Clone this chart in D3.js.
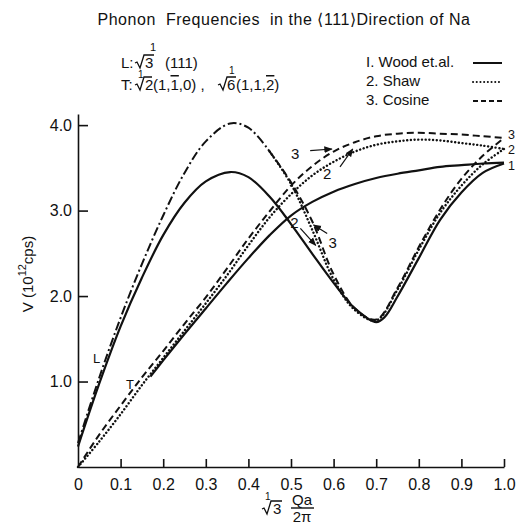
<!DOCTYPE html>
<html>
<head>
<meta charset="utf-8">
<script src="https://cdn.jsdelivr.net/npm/d3@7"></script>
<style>
body { margin: 0; background: #fff; }
svg text { font-family: "Liberation Sans", Arial, sans-serif; fill: #111; }
</style>
</head>
<body>
<div id="chart"></div>
<script>
// Phonon frequencies in the <111> direction of Na, redrawn with d3

var width = 521,
	height = 524;

// axis ticks
var xTicks = [0, 0.1, 0.2, 0.3, 0.4, 0.5, 0.6, 0.7, 0.8, 0.9, 1.0];
var xTickLabels = ["0", "0.1", "0.2", "0.3", "0.4", "0.5", "0.6", "0.7", "0.8", "0.9", "1.0"];
var yTicks = [1, 2, 3, 4];
var yTickLabels = ["1.0", "2.0", "3.0", "4.0"];

// 1. Wood et al. (solid)
var woodL = [[0, 0.24], [0.05, 0.98], [0.1, 1.65], [0.15, 2.22], [0.2, 2.72], [0.25, 3.1], [0.3, 3.35],
	[0.357, 3.46], [0.4, 3.4], [0.45, 3.17], [0.5, 2.85], [0.55, 2.5], [0.6, 2.16], [0.65, 1.86],
	[0.7, 1.70], [0.72, 1.76], [0.75, 2.0], [0.8, 2.45], [0.85, 2.9], [0.9, 3.22], [0.95, 3.45], [1.0, 3.56]];
var woodT = [[0.17, 1.06], [0.2, 1.25], [0.25, 1.56], [0.3, 1.86], [0.35, 2.16], [0.4, 2.45], [0.45, 2.72],
	[0.5, 2.95], [0.55, 3.11], [0.6, 3.23], [0.65, 3.32], [0.7, 3.39], [0.75, 3.44], [0.8, 3.48],
	[0.85, 3.52], [0.9, 3.54], [0.95, 3.56], [1.0, 3.57]];

// L branch where Shaw and Cosine coincide (drawn dash-dot)
var sharedL = [[0, 0.28], [0.05, 1.05], [0.1, 1.75], [0.15, 2.38], [0.2, 2.95], [0.25, 3.45], [0.3, 3.82],
	[0.357, 4.03], [0.4, 3.98], [0.45, 3.7]];

// 2. Shaw (dotted)
var shawL = [[0.45, 3.7], [0.5, 3.32], [0.55, 2.78], [0.6, 2.2], [0.65, 1.84], [0.7, 1.72], [0.75, 2.08],
	[0.8, 2.55], [0.85, 2.98], [0.9, 3.3], [0.95, 3.55], [1.0, 3.73]];
var shawT = [[0, 0], [0.05, 0.3], [0.1, 0.62], [0.15, 0.96], [0.2, 1.28], [0.25, 1.6], [0.3, 1.92],
	[0.35, 2.25], [0.4, 2.6], [0.45, 2.93], [0.5, 3.2], [0.55, 3.42], [0.6, 3.58], [0.65, 3.7],
	[0.7, 3.78], [0.75, 3.82], [0.8, 3.84], [0.85, 3.83], [0.9, 3.8], [0.95, 3.77], [1.0, 3.73]];

// 3. Cosine (dashed)
var cosL = [[0.45, 3.7], [0.5, 3.34], [0.55, 2.88], [0.6, 2.26], [0.65, 1.86], [0.7, 1.73], [0.75, 2.1],
	[0.8, 2.58], [0.85, 3.02], [0.9, 3.38], [0.95, 3.65], [1.0, 3.86]];
var cosT = [[0, 0], [0.05, 0.38], [0.1, 0.72], [0.15, 1.05], [0.2, 1.36], [0.25, 1.68], [0.3, 1.99],
	[0.35, 2.33], [0.4, 2.68], [0.45, 3.0], [0.5, 3.3], [0.55, 3.53], [0.6, 3.7], [0.65, 3.81],
	[0.7, 3.88], [0.75, 3.91], [0.8, 3.92], [0.85, 3.91], [0.9, 3.9], [0.95, 3.88], [1.0, 3.86]];

// little "2"/"3" pointers on the curves: label position, arrow start, arrow end
var pointers = [
	{text: "3", at: [0.51, 3.67], from: [0.545, 3.71], to: [0.596, 3.73]},
	{text: "2", at: [0.585, 3.44], from: [0.615, 3.52], to: [0.645, 3.73]},
	{text: "2", at: [0.508, 2.86], from: [0.522, 2.8], to: [0.558, 2.6]},
	{text: "3", at: [0.598, 2.63], from: [0.585, 2.74], to: [0.553, 2.84]}
];
var endLabels = [{text: "3", y: 3.9}, {text: "2", y: 3.72}, {text: "1", y: 3.54}];

var svg = d3.select("#chart").append("svg")
	.attr("width", width)
	.attr("height", height);

var x = d3.scaleLinear().domain([0, 1]).range([78, 504]);
var y = d3.scaleLinear().domain([0, 4]).range([467, 126]);

svg.append("defs").append("marker")
	.attr("id", "head")
	.attr("viewBox", "0 0 10 10")
	.attr("refX", 9).attr("refY", 5)
	.attr("markerWidth", 7).attr("markerHeight", 7)
	.attr("orient", "auto")
	.append("path")
	.attr("d", "M0,1 L10,5 L0,9 Z")
	.attr("fill", "#111");

// axes
var xAxis = d3.axisBottom(x)
	.tickValues(xTicks)
	.tickFormat((d, i) => xTickLabels[i])
	.tickSizeInner(-8)
	.tickSizeOuter(0)
	.tickPadding(12);

var yAxis = d3.axisLeft(d3.scaleLinear().domain([0, 4.13]).range([467, 114]))
	.tickValues(yTicks)
	.tickFormat((d, i) => yTickLabels[i])
	.tickSizeInner(-10)
	.tickSizeOuter(0)
	.tickPadding(6);

var gx = svg.append("g").attr("transform", "translate(0," + y(0) + ")").call(xAxis);
var gy = svg.append("g").attr("transform", "translate(" + x(0) + ",0)").call(yAxis);

[gx, gy].forEach(function(g){
	g.select(".domain").attr("stroke", "#111").attr("stroke-width", 1.6);
	g.selectAll(".tick line").attr("stroke", "#111").attr("stroke-width", 1.6);
	g.selectAll(".tick text")
		.attr("font-family", "Liberation Sans, Arial, sans-serif")
		.attr("font-size", 16)
		.attr("fill", "#111");
});
gx.selectAll(".tick").filter(d => d == 0).select("line").remove();

// curves
var line = d3.line()
	.x(d => x(d[0]))
	.y(d => y(d[1]))
	.curve(d3.curveCatmullRom.alpha(0.5));

var curves = [
	{data: woodL, dash: null, w: 2.2},
	{data: woodT, dash: null, w: 2.2},
	{data: sharedL, dash: "9,3,2,3", w: 2},
	{data: shawL, dash: "0.1,3.6", w: 2.4},
	{data: shawT, dash: "0.1,3.6", w: 2.4},
	{data: cosL, dash: "7,4", w: 2},
	{data: cosT, dash: "7,4", w: 2}
];

svg.append("g").selectAll("path")
	.data(curves)
	.enter()
	.append("path")
	.attr("d", d => line(d.data))
	.attr("fill", "none")
	.attr("stroke", "#111")
	.attr("stroke-width", d => d.w)
	.attr("stroke-linecap", d => d.dash == "0.1,3.6" ? "round" : "butt")
	.attr("stroke-dasharray", d => d.dash);

// pointers
var pg = svg.append("g");
pointers.forEach(function(p){
	pg.append("line")
		.attr("x1", x(p.from[0])).attr("y1", y(p.from[1]))
		.attr("x2", x(p.to[0])).attr("y2", y(p.to[1]))
		.attr("stroke", "#111")
		.attr("stroke-width", 1.2)
		.attr("marker-end", "url(#head)");
	pg.append("text")
		.attr("x", x(p.at[0])).attr("y", y(p.at[1]))
		.attr("font-size", 15)
		.attr("text-anchor", "middle")
		.attr("dy", "0.35em")
		.text(p.text);
});

pg.selectAll(".end")
	.data(endLabels)
	.enter()
	.append("text")
	.attr("x", x(1) + 4)
	.attr("y", d => y(d.y))
	.attr("dy", "0.35em")
	.attr("font-size", 12.5)
	.text(d => d.text);

// branch labels
pg.append("text").attr("x", 93).attr("y", 363).attr("font-size", 13).text("L");
pg.append("text").attr("x", 126).attr("y", 389).attr("font-size", 13).text("T");

// title
svg.append("text")
	.attr("x", 284).attr("y", 25)
	.attr("text-anchor", "middle")
	.attr("font-size", 16)
	.attr("letter-spacing", 0.55)
	.attr("xml:space", "preserve")
	.text("Phonon  Frequencies  in the \u27E8111\u27E9Direction of Na");

// radical sign drawn as a path, digit sits under the bar
function radical(g, x0, x1, yb){
	g.append("path")
		.attr("d", "M" + x0 + "," + (yb - 5) + " L" + (x0 + 2) + "," + (yb - 6) +
			" L" + (x0 + 5) + "," + yb + " L" + (x0 + 9) + "," + (yb - 13) + " H" + x1)
		.attr("fill", "none")
		.attr("stroke", "#111")
		.attr("stroke-width", 1.3);
}

function put(g, tx, ty, str, size){
	return g.append("text").attr("x", tx).attr("y", ty).attr("font-size", size || 15).text(str);
}

// L / T directions
var dir = svg.append("g");
put(dir, 121, 68, "L:");
radical(dir, 135, 154, 68);
put(dir, 145, 68, "3");
put(dir, 150, 51, "1", 11);
put(dir, 165, 68, "(111)");

put(dir, 121, 90, "T:");
radical(dir, 135, 152, 90);
put(dir, 145, 90, "2");
put(dir, 138, 78, "1", 10);
var t1 = put(dir, 153, 90, "(1,");
t1.append("tspan").style("text-decoration", "overline").text("1");
t1.append("tspan").text(",0) ,");
radical(dir, 218, 236, 90);
put(dir, 227, 90, "6");
put(dir, 229, 74, "1", 10);
var t2 = put(dir, 236, 90, "(1,1,");
t2.append("tspan").style("text-decoration", "overline").text("2");
t2.append("tspan").text(")");

// legend
var legendNames = ["I. Wood et.al.", "2. Shaw", "3. Cosine"];
var legendDash = [null, "0.1,3.6", "5,3"];
var legend = svg.append("g");
legendNames.forEach(function(name, i){
	var ly = 67 + i * 19;
	legend.append("text").attr("x", 366).attr("y", ly).attr("font-size", 15).text(name);
	legend.append("line")
		.attr("x1", 473).attr("x2", 502)
		.attr("y1", ly - 4).attr("y2", ly - 4)
		.attr("stroke", "#111")
		.attr("stroke-width", 2)
		.attr("stroke-linecap", i == 1 ? "round" : "butt")
		.attr("stroke-dasharray", legendDash[i]);
});

// y axis label
var yl = svg.append("text")
	.attr("transform", "translate(33,274) rotate(-90)")
	.attr("text-anchor", "middle")
	.attr("font-size", 15);
yl.append("tspan").text("V (10");
yl.append("tspan").attr("font-size", 11).attr("dy", -7).text("12");
yl.append("tspan").attr("dy", 7).text("cps)");

// x axis label
var xl = svg.append("g");
radical(xl, 262, 282, 514);
put(xl, 273, 514, "3");
put(xl, 265, 500, "1", 10);
xl.append("text").attr("x", 302).attr("y", 505).attr("font-size", 15).attr("text-anchor", "middle").text("Qa");
xl.append("line").attr("x1", 291).attr("x2", 314).attr("y1", 508).attr("y2", 508)
	.attr("stroke", "#111").attr("stroke-width", 1.4);
xl.append("text").attr("x", 302).attr("y", 522).attr("font-size", 15).attr("text-anchor", "middle").text("2\u03C0");
</script>
</body>
</html>
